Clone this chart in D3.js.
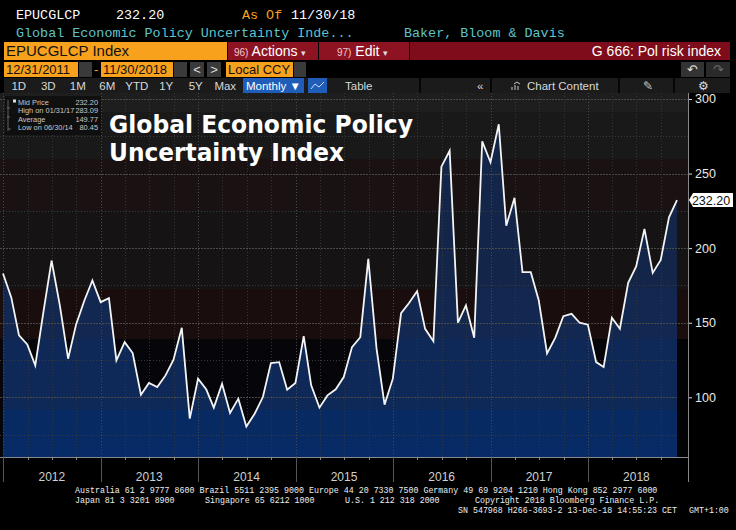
<!DOCTYPE html>
<html>
<head>
<meta charset="utf-8">
<script src="https://cdn.jsdelivr.net/npm/d3@7"></script>
<style>
  html, body { margin: 0; padding: 0; background: #000; }
  svg { display: block; }
</style>
</head>
<body>
<svg id="chart" width="736" height="530"></svg>
<script>
// monthly index values, 12/31/2011 .. 11/30/2018
const startMonth = "2011-12";
const values = [
  183,
  167, 141.5, 135.5, 121.4, 157.8, 191.7, 161.6, 125.9, 148.9, 164.9, 178.3, 163.8,
  166.5, 124.8, 137, 129.7, 101.8, 109.6, 106.9, 114.7, 125.2, 146.6, 85.7, 112.5,
  105.2, 93.1, 109.1, 89.5, 99.1, 80.45, 89, 100.2, 123, 123.6, 105.1, 109.6,
  141, 108, 93.1, 101.3, 105.4, 113.6, 133.7, 140.3, 192.8, 132.6, 95.1, 112.5,
  156.4, 163.1, 171.1, 145.9, 137.6, 254.6, 265.3, 150, 161.6, 140, 271.6, 257.6,
  283.09, 215, 233.7, 183.9, 183.9, 164.9, 129.5, 140, 154.4, 156, 150, 148.7,
  123.6, 120.3, 153.3, 146, 176.8, 187.7, 212.9, 183.4, 192.1, 220.7, 232.2
];
const yTicks = [100, 150, 200, 250, 300];
const years = [2012, 2013, 2014, 2015, 2016, 2017, 2018];
const legendRows = [
  ["Mid Price", "232.20"],
  ["High on 01/31/17", "283.09"],
  ["Average", "149.77"],
  ["Low on 06/30/14", "80.45"]
];
const buttons = ["1D", "3D", "1M", "6M", "YTD", "1Y", "5Y", "Max"];
// footer pieces: [text, x, line]
const footer = [
  ["Australia 61 2 9777 8600 Brazil 5511 2395 9000 Europe 44 20 7330 7500 Germany 49 69 9204 1210 Hong Kong 852 2977 6000", 75, 0],
  ["Japan 81 3 3201 8900", 75, 1],
  ["Singapore 65 6212 1000", 205, 1],
  ["U.S. 1 212 318 2000", 345, 1],
  ["Copyright 2018 Bloomberg Finance L.P.", 475, 1],
  ["SN 547968 H266-3693-2 13-Dec-18 14:55:23 CET", 458, 2],
  ["GMT+1:00", 689, 2]
];

const orange = "#f7a11d", maroon = "#7e0c1a", red = "#8e1322";
const mono = "'Liberation Mono', 'DejaVu Sans Mono', monospace";
const sans = "'Liberation Sans', Arial, sans-serif";

const svg = d3.select("#chart");

// month-end dates
const first = d3.timeParse("%Y-%m")(startMonth);
const data = values.map((v, i) => ({
  date: d3.timeDay.offset(d3.timeMonth.offset(first, i + 1), -1),
  value: v
}));

// ---------- header ----------
let hdr = svg.append("g").attr("font-family", mono).attr("font-size", 13.4);
hdr.append("text").attr("x", 16).attr("y", 19).attr("fill", "#fff").text("EPUCGLCP");
hdr.append("text").attr("x", 116).attr("y", 19).attr("fill", "#fff").text("232.20");
hdr.append("text").attr("x", 242).attr("y", 19).attr("fill", orange).text("As Of");
hdr.append("text").attr("x", 291).attr("y", 19).attr("fill", "#fff").text("11/30/18");
hdr.append("text").attr("x", 16).attr("y", 37).attr("fill", "#5ec3cc").text("Global Economic Policy Uncertainty Inde...");
hdr.append("text").attr("x", 404).attr("y", 37).attr("fill", "#5ec3cc").text("Baker, Bloom & Davis");

// row 3
svg.append("rect").attr("x", 4).attr("y", 42).attr("width", 223).attr("height", 18).attr("fill", orange);
svg.append("text").attr("x", 6).attr("y", 56).attr("font-family", sans).attr("font-size", 15)
  .attr("fill", "#111").text("EPUCGLCP Index");
svg.append("rect").attr("x", 228).attr("y", 42).attr("width", 90).attr("height", 18).attr("fill", red);
svg.append("rect").attr("x", 319).attr("y", 42).attr("width", 90).attr("height", 18).attr("fill", red);
svg.append("rect").attr("x", 410).attr("y", 42).attr("width", 320).attr("height", 18).attr("fill", maroon);
svg.append("text").attr("x", 234).attr("y", 56).attr("font-family", sans).attr("font-size", 14).attr("fill", "#fff")
  .html("<tspan font-size='10' fill='#f2c8cc'>96)</tspan> Actions <tspan font-size='9' fill='#ddd'>▾</tspan>");
svg.append("text").attr("x", 337).attr("y", 56).attr("font-family", sans).attr("font-size", 14).attr("fill", "#fff")
  .html("<tspan font-size='10' fill='#f2c8cc'>97)</tspan> Edit <tspan font-size='9' fill='#ddd'>▾</tspan>");
svg.append("text").attr("x", 721).attr("y", 56).attr("text-anchor", "end").attr("font-family", sans)
  .attr("font-size", 14).attr("fill", "#fff").text("G 666: Pol risk index");

// row 4
let r4 = svg.append("g").attr("font-family", sans).attr("font-size", 13);
r4.append("rect").attr("x", 4).attr("y", 62).attr("width", 74).attr("height", 15).attr("fill", orange);
r4.append("text").attr("x", 6).attr("y", 74).attr("fill", "#111").text("12/31/2011");
r4.append("rect").attr("x", 79).attr("y", 62).attr("width", 13).attr("height", 15).attr("fill", "#3a3a3a");
r4.append("text").attr("x", 94).attr("y", 74).attr("fill", orange).text("-");
r4.append("rect").attr("x", 101).attr("y", 62).attr("width", 72).attr("height", 15).attr("fill", orange);
r4.append("text").attr("x", 103).attr("y", 74).attr("fill", "#111").text("11/30/2018");
r4.append("rect").attr("x", 174).attr("y", 62).attr("width", 13).attr("height", 15).attr("fill", "#3a3a3a");
r4.append("rect").attr("x", 190).attr("y", 62).attr("width", 14).attr("height", 15).attr("fill", "#3a3a3a");
r4.append("rect").attr("x", 207).attr("y", 62).attr("width", 14).attr("height", 15).attr("fill", "#3a3a3a");
r4.append("text").attr("x", 197).attr("y", 74).attr("text-anchor", "middle").attr("fill", "#ddd").text("<");
r4.append("text").attr("x", 214).attr("y", 74).attr("text-anchor", "middle").attr("fill", "#ddd").text(">");
r4.append("rect").attr("x", 226).attr("y", 62).attr("width", 67).attr("height", 15).attr("fill", orange);
r4.append("text").attr("x", 228).attr("y", 74).attr("fill", "#111").text("Local CCY");
r4.append("rect").attr("x", 294).attr("y", 62).attr("width", 12).attr("height", 15).attr("fill", "#3a3a3a");
r4.append("rect").attr("x", 681).attr("y", 62).attr("width", 23).attr("height", 15).attr("fill", "#333");
r4.append("rect").attr("x", 706).attr("y", 62).attr("width", 24).attr("height", 15).attr("fill", "#2a2a2a");
r4.append("text").attr("x", 692).attr("y", 74).attr("text-anchor", "middle").attr("fill", "#ddd").text("↶");
r4.append("text").attr("x", 718).attr("y", 74).attr("text-anchor", "middle").attr("fill", "#666").text("↷");

// row 5
let r5 = svg.append("g").attr("font-family", sans).attr("font-size", 11.5);
r5.append("rect").attr("x", 4).attr("y", 78).attr("width", 726).attr("height", 15).attr("fill", "#1b1b1b");
let bx = d3.scaleBand().domain(buttons).range([4, 240]);
r5.selectAll(".btn").data(buttons).join("text")
  .attr("x", d => bx(d) + bx.bandwidth() / 2).attr("y", 89.5)
  .attr("text-anchor", "middle").attr("fill", "#d8d8d8").text(d => d);
r5.append("rect").attr("x", 243).attr("y", 78).attr("width", 61).attr("height", 15).attr("fill", "#1f5db8");
r5.append("text").attr("x", 246).attr("y", 89.5).attr("fill", "#fff").text("Monthly ▼");
r5.append("rect").attr("x", 308).attr("y", 78).attr("width", 19).attr("height", 15).attr("fill", "#1f5db8");
r5.append("path").attr("d", "M311,89 L315,84 L319,87 L324,82").attr("stroke", "#cfe0ff").attr("fill", "none");
r5.append("text").attr("x", 345).attr("y", 89.5).attr("fill", "#d8d8d8").text("Table");
r5.append("text").attr("x", 477).attr("y", 89.5).attr("fill", "#d8d8d8").text("«");
r5.append("text").attr("x", 527).attr("y", 89.5).attr("fill", "#d8d8d8").text("Chart Content");
r5.append("path").attr("d", "M512,90 L512,87 M515,90 L515,85 M518,90 L518,86 M514,84 L517,82 L520,84")
  .attr("stroke", "#ccc").attr("fill", "none");
r5.append("text").attr("x", 648).attr("y", 90).attr("text-anchor", "middle").attr("fill", "#ccc").text("✎");
r5.append("text").attr("x", 703).attr("y", 90).attr("text-anchor", "middle").attr("fill", "#ddd").text("⚙");
[420, 491, 619, 674].forEach(xx => {
  r5.append("line").attr("x1", xx).attr("x2", xx).attr("y1", 78).attr("y2", 93).attr("stroke", "#000").attr("stroke-width", 1.5);
});

// ---------- chart ----------
const plotLeft = 0, plotRight = 688, plotTop = 93, plotBottom = 457;

const x = d3.scaleTime()
  .domain([data[0].date, data[data.length - 1].date])
  .range([3, 677]);
const y = d3.scaleLinear().domain([60, 304]).range([plotBottom, plotTop]);

// background bands
const bands = [
  [93, 112, "#1e1e1e"], [112, 159, "#191919"], [159, 210, "#1a1212"],
  [210, 289, "#151313"], [289, 339, "#190d0d"], [339, 457, "#05050a"]
];
svg.append("g").selectAll("rect").data(bands).join("rect")
  .attr("x", plotLeft).attr("y", d => d[0]).attr("width", plotRight - plotLeft)
  .attr("height", d => d[1] - d[0]).attr("fill", d => d[2]);

// area fill with stepped gradient
const defs = svg.append("defs");
const grad = defs.append("linearGradient").attr("id", "fillGrad")
  .attr("gradientUnits", "userSpaceOnUse").attr("x1", 0).attr("x2", 0).attr("y1", plotTop).attr("y2", plotBottom);
const gstops = [
  [93, "#13264a"], [289, "#13264a"], [289, "#122850"], [339, "#122850"],
  [339, "#0e2957"], [410, "#0e2957"], [410, "#082a62"], [457, "#072b66"]
];
gstops.forEach(s => grad.append("stop")
  .attr("offset", (s[0] - plotTop) / (plotBottom - plotTop)).attr("stop-color", s[1]));

svg.append("path").datum(data)
  .attr("fill", "url(#fillGrad)")
  .attr("d", d3.area().x(d => x(d.date)).y0(plotBottom).y1(d => y(d.value)));

// grid
const grid = svg.append("g");
grid.selectAll(".hg").data(d3.range(75, 301, 25)).join("line")
  .attr("x1", plotLeft).attr("x2", plotRight)
  .attr("y1", d => Math.round(y(d)) + 0.5).attr("y2", d => Math.round(y(d)) + 0.5)
  .attr("stroke", d => d % 50 === 0 ? "#4a4a4a" : "#3a3a3a")
  .attr("stroke-dasharray", d => d % 50 === 0 ? "2,1" : "1,2");
const quarters = d3.timeMonth.every(3).range(new Date(2012, 0, 1), new Date(2018, 11, 2));
grid.selectAll(".vg").data(quarters).join("line")
  .attr("x1", d => Math.round(x(d)) + 0.5).attr("x2", d => Math.round(x(d)) + 0.5)
  .attr("y1", plotTop).attr("y2", plotBottom)
  .attr("stroke", d => d.getMonth() === 0 ? "#4a4a4a" : "#353535")
  .attr("stroke-dasharray", "1,2");

// line
svg.append("path").datum(data)
  .attr("fill", "none").attr("stroke", "#f4f4f4").attr("stroke-width", 1.8)
  .attr("stroke-linejoin", "miter")
  .attr("d", d3.line().x(d => x(d.date)).y(d => y(d.value)));

// black gutter right of the data
svg.append("rect").attr("x", 678).attr("y", 339).attr("width", 10).attr("height", 118).attr("fill", "#030305");

// right axis
const yAxis = svg.append("g").attr("transform", `translate(${plotRight},0)`)
  .call(d3.axisRight(y).tickValues(yTicks).tickSize(4).tickPadding(3));
yAxis.select(".domain").remove();
yAxis.selectAll("line").attr("stroke", "#ddd");
yAxis.selectAll("text").attr("fill", "#e8e8e8").attr("font-family", sans).attr("font-size", 12.5);
svg.append("line").attr("x1", plotRight + 0.5).attr("x2", plotRight + 0.5)
  .attr("y1", plotTop).attr("y2", 482).attr("stroke", "#888");

// last value tag
const last = data[data.length - 1];
const ly = y(last.value);
svg.append("path")
  .attr("d", `M${plotRight + 1},${ly} L${plotRight + 5},${ly - 7} L733,${ly - 7} L733,${ly + 7} L${plotRight + 5},${ly + 7} Z`)
  .attr("fill", "#fff");
svg.append("text").attr("x", 711).attr("y", ly + 4.5).attr("text-anchor", "middle")
  .attr("font-family", sans).attr("font-size", 12.5).attr("fill", "#111").text(d3.format(".2f")(last.value));

// bottom axis
svg.append("line").attr("x1", plotLeft).attr("x2", plotRight).attr("y1", plotBottom + 0.5).attr("y2", plotBottom + 0.5)
  .attr("stroke", "#8a8a8a");
svg.append("g").selectAll("line").data(quarters).join("line")
  .attr("x1", d => Math.round(x(d)) + 0.5).attr("x2", d => Math.round(x(d)) + 0.5)
  .attr("y1", plotBottom).attr("y2", d => d.getMonth() === 0 ? 482 : plotBottom + 3)
  .attr("stroke", d => d.getMonth() === 0 ? "#555" : "#8a8a8a");
svg.append("g").selectAll("text").data(years).join("text")
  .attr("x", d => x(new Date(d, 6, 1))).attr("y", 481)
  .attr("text-anchor", "middle").attr("font-family", sans).attr("font-size", 12)
  .attr("fill", "#d0d0d0").text(d => d);

// legend box
const lg = svg.append("g").attr("font-family", sans).attr("font-size", 7.4);
lg.append("rect").attr("x", 5).attr("y", 96).attr("width", 96).attr("height", 39).attr("fill", "#0e0e0e").attr("opacity", 0.9);
lg.selectAll(".ll").data(legendRows).join("text")
  .attr("x", 18).attr("y", (d, i) => 104.5 + i * 8.5).attr("fill", "#c8c8c8").text(d => d[0]);
lg.selectAll(".lv").data(legendRows).join("text")
  .attr("x", 98).attr("y", (d, i) => 104.5 + i * 8.5).attr("text-anchor", "end").attr("fill", "#c8c8c8").text(d => d[1]);
lg.append("rect").attr("x", 13).attr("y", 99.5).attr("width", 3).attr("height", 3).attr("fill", "#ddd");
lg.append("path").attr("d", "M8,100 L8,131 M7,108 L10,108 M7,117 L10,117 M8,129 L11,129")
  .attr("stroke", "#777").attr("stroke-width", 0.8).attr("fill", "none");

// title
const tt = svg.append("g").attr("font-family", "'DejaVu Sans', Verdana, sans-serif")
  .attr("font-weight", "bold").attr("font-size", 25).attr("fill", "#fff");
tt.append("text").attr("x", 109).attr("y", 133).attr("textLength", 304).attr("lengthAdjust", "spacingAndGlyphs")
  .text("Global Economic Policy");
tt.append("text").attr("x", 109).attr("y", 161).attr("textLength", 235).attr("lengthAdjust", "spacingAndGlyphs")
  .text("Uncertainty Index");

// footer: condensed mono text, slightly stretched vertically like the terminal font
const lineY = [493, 503, 513];
svg.append("g").attr("font-family", mono).attr("font-size", 8.3).attr("fill", "#eee")
  .selectAll("text").data(footer).join("text")
  .attr("transform", d => `translate(${d[1]},${lineY[d[2]]}) scale(1,1.1)`)
  .text(d => d[0]);
</script>
</body>
</html>
